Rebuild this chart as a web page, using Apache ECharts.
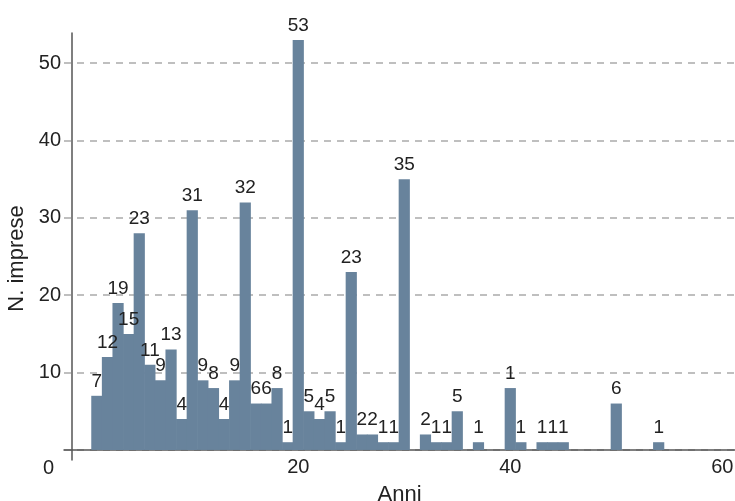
<!DOCTYPE html>
<html>
    <head>
        <meta charset="utf-8">
        <script src="https://cdn.jsdelivr.net/npm/echarts@6/dist/echarts.min.js"></script>
    </head>
    <body>
        <style>
            html, body, #main {
                width: 100%;
                height: 100%;
                margin: 0;
                background: #fff;
            }
        </style>
        <div id="main"></div>
        <script>
            // anni di attivita (x) e numero di imprese (y)
            var anni = [1, 2, 3, 4, 5, 6, 7, 8, 9, 10, 11, 12, 13, 14, 15, 16, 17, 18, 19, 20,
                21, 22, 23, 24, 25, 26, 27, 28, 29, 30, 32, 33, 34, 35, 37, 40, 41, 43, 44, 45, 50, 54];
            var imprese = [7, 12, 19, 15, 28, 11, 9, 13, 4, 31, 9, 8, 4, 9, 32, 6, 6, 8, 1, 53,
                5, 4, 5, 1, 23, 2, 2, 1, 1, 35, 2, 1, 1, 5, 1, 8, 1, 1, 1, 1, 6, 1];
            // etichette come stampate sopra le barre
            var etichette = ['7', '12', '19', '15', '23', '11', '9', '13', '4', '31', '9', '8', '4', '9', '32', '6', '6', '8', '1', '53',
                '5', '4', '5', '1', '23', '2', '2', '1', '1', '35', '2', '1', '1', '5', '1', '1', '1', '1', '1', '1', '6', '1'];
            var yTicks = [0, 10, 20, 30, 40, 50];
            var xTicks = [20, 40, 60];

            var chart = echarts.init(document.getElementById('main'));

            var data = anni.map(function (a, i) {
                return [a, imprese[i]];
            });

            var font = 'Liberation Sans';
            var ink = '#222';
            chart.setOption({
                animation: false,
                textStyle: { fontFamily: font },
                grid: { left: 64, right: 0, top: 33, bottom: 41, containLabel: false, outerBoundsMode: 'none' },
                xAxis: {
                    type: 'value',
                    min: -2.1,
                    max: 61.2,
                    name: 'Anni',
                    nameLocation: 'middle',
                    nameGap: 24,
                    nameTextStyle: { fontSize: 22, color: ink, fontFamily: font },
                    axisLine: { onZero: true, lineStyle: { color: '#555', width: 1.5 } },
                    axisTick: { show: false, customValues: xTicks },
                    axisLabel: { customValues: xTicks, fontSize: 20, color: ink, margin: -3, fontFamily: font },
                    splitLine: { show: false }
                },
                yAxis: {
                    type: 'value',
                    min: -1.3,
                    max: 53.9,
                    offset: -8,
                    name: 'N. imprese',
                    nameLocation: 'middle',
                    nameGap: 33,
                    nameTextStyle: { fontSize: 22, color: ink, fontFamily: font, padding: [0, 24, 0, 0] },
                    axisLine: { show: true, onZero: false, lineStyle: { color: '#555', width: 1.5 } },
                    axisTick: { show: false, customValues: yTicks },
                    axisLabel: {
                        customValues: yTicks,
                        fontSize: 20,
                        color: ink,
                        margin: 11,
                        fontFamily: font,
                        formatter: function (v) {
                            return v === 0 ? '{z|0}' : String(v);
                        },
                        rich: {
                            z: { fontSize: 20, color: ink, fontFamily: font, padding: [38, 7, 0, 0] }
                        }
                    },
                    splitLine: {
                        show: true,
                        lineStyle: { color: '#aaa', type: [7, 6], width: 1.5 }
                    }
                },
                series: [{
                    type: 'bar',
                    data: data,
                    barWidth: 11.2,
                    itemStyle: { color: '#68839c' },
                    label: {
                        show: true,
                        position: 'top',
                        distance: 5,
                        fontSize: 19,
                        color: ink,
                        fontFamily: font,
                        formatter: function (p) {
                            return etichette[p.dataIndex];
                        }
                    }
                }]
            });
        </script>
    </body>
</html>
